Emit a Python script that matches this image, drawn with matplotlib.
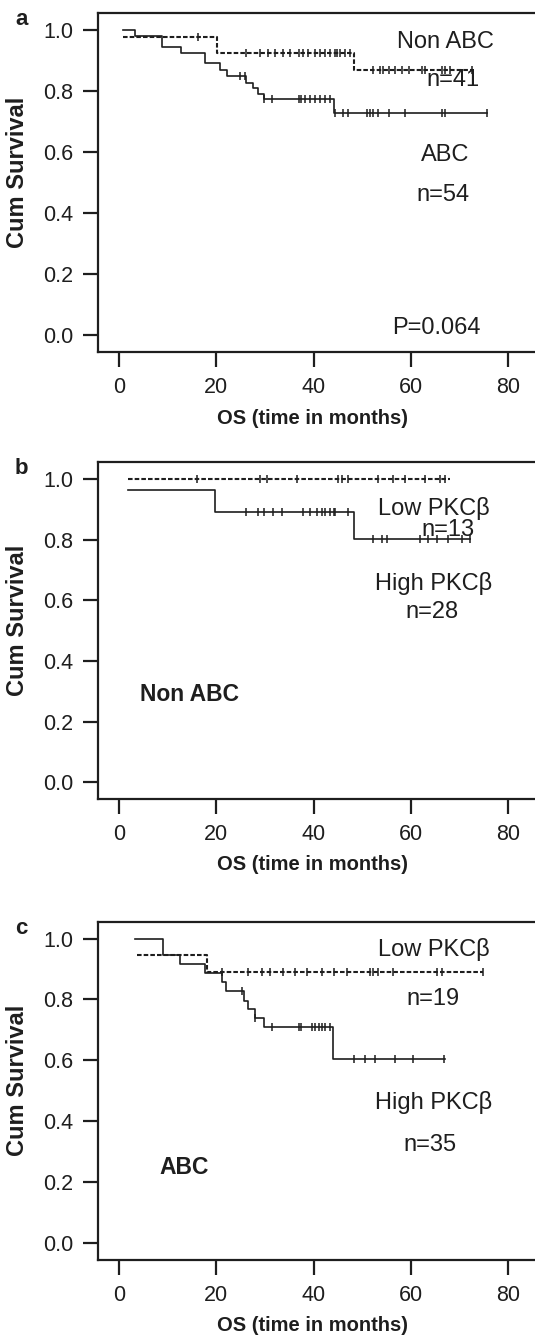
import numpy as np
import matplotlib
matplotlib.use("Agg")
import matplotlib.pyplot as plt

plt.rcParams["font.family"] = ["Liberation Sans", "DejaVu Sans"]

# --- Datos (meses, supervivencia acumulada) ---
# Panel a: Non ABC (discontinua) vs ABC (continua)
a_non_start, a_non_s0, a_non_end = 0.9, 0.976, 72.5
a_non_events = [20.1, 48.3]
a_non_levels = [0.926, 0.869]
a_non_cens = [16.3, 26.2, 29.0, 30.7, 32.1, 33.8, 35.1, 36.9, 37.9, 38.9, 40.3,
              41.3, 42.3, 43.4, 44.4, 44.7, 45.4, 46.5, 47.5, 52.3, 53.6, 54.3,
              55.4, 56.7, 58.1, 59.5, 62.2, 62.9, 66.3, 67.0, 68.0, 72.5]

a_abc_start, a_abc_s0, a_abc_end = 0.9, 1.0, 75.6
a_abc_events = [3.3, 8.9, 12.7, 17.7, 20.8, 22.1, 26.2, 27.6, 28.6, 29.7, 44.1]
a_abc_levels = [0.981, 0.945, 0.926, 0.891, 0.869, 0.849, 0.825, 0.809, 0.789, 0.773, 0.727]
a_abc_cens = [24.9, 25.9, 29.9, 31.4, 36.9, 37.5, 38.2, 39.2, 40.3, 41.3, 42.3, 43.4,
              44.4, 46.1, 47.1, 50.9, 51.6, 52.3, 53.3, 55.4, 58.7, 66.3, 67.0, 75.6]

# Panel b: Non ABC, Low PKCβ (discontinua) vs High PKCβ (continua)
b_low_start, b_low_s0, b_low_end = 1.9, 1.0, 68.0
b_low_events = []
b_low_levels = []
b_low_cens = [16.0, 29.0, 30.4, 36.5, 45.1, 45.8, 47.1, 53.3, 56.4, 58.8, 62.9, 66.0, 67.0]

b_high_start, b_high_s0, b_high_end = 1.9, 0.964, 72.1
b_high_events = [19.7, 48.2]
b_high_levels = [0.892, 0.802]
b_high_cens = [26.2, 28.6, 29.7, 31.7, 33.4, 37.9, 39.3, 40.6, 41.7, 42.3, 43.4, 44.1,
               44.4, 47.1, 52.3, 54.0, 55.0, 61.9, 63.6, 65.3, 67.7, 70.4, 72.1]

# Panel c: ABC, Low PKCβ (discontinua) vs High PKCβ (continua)
c_low_start, c_low_s0, c_low_end = 3.6, 0.947, 74.9
c_low_events = [18.0]
c_low_levels = [0.890]
c_low_cens = [21.1, 26.6, 29.3, 31.0, 33.8, 36.2, 38.6, 41.7, 44.1, 46.8, 51.6,
              52.3, 53.3, 56.4, 65.3, 66.3, 74.9]

c_high_start, c_high_s0, c_high_end = 3.3, 1.0, 67.0
c_high_events = [9.1, 12.5, 17.7, 21.1, 22.0, 25.6, 26.6, 28.0, 29.7, 43.9]
c_high_levels = [0.945, 0.916, 0.888, 0.857, 0.828, 0.795, 0.768, 0.740, 0.711, 0.606]
c_high_cens = [25.2, 28.0, 31.4, 36.9, 37.5, 39.6, 40.3, 41.0, 41.7, 42.3, 43.4,
               48.2, 50.6, 52.6, 56.7, 60.5, 66.7]

x_ticks = [0, 20, 40, 60, 80]
y_ticks = [0.0, 0.2, 0.4, 0.6, 0.8, 1.0]

INK = "#1e1e1e"


def km_curve(ax, start, s0, events, levels, end, cens, dashed):
    xs = [start] + list(events) + [end]
    ys = [s0] + list(levels) + [levels[-1] if levels else s0]
    ls = (0, (2.2, 1.0)) if dashed else "-"
    lw = 1.5 if dashed else 1.2
    ax.step(xs, ys, where="post", color=INK, linestyle=ls, linewidth=lw)
    # nivel de la curva en cada censura
    ev = np.array([start] + list(events))
    lv = np.array([s0] + list(levels))
    idx = np.searchsorted(ev, cens, side="right") - 1
    ax.plot(cens, lv[idx], linestyle="none", marker="|", markersize=6,
            markeredgewidth=1.1, color=INK)


def style_axes(ax, letter):
    ax.set_xlim(-4.32, 85.5)
    ax.set_ylim(-0.0557, 1.0557)
    ax.set_xticks(x_ticks)
    ax.set_yticks(y_ticks)
    ax.set_yticklabels(["%.1f" % v for v in y_ticks])
    ax.tick_params(length=11, width=1.6, pad=7, labelsize=15.5, colors=INK)
    ax.spines["right"].set_visible(False)
    for s in ["left", "bottom", "top"]:
        ax.spines[s].set_linewidth(1.6)
        ax.spines[s].set_color(INK)
    ax.text(-0.184, 0.53, "Cum Survival", transform=ax.transAxes, rotation=90,
            ha="center", va="center", fontsize=17, fontweight="bold", color=INK)
    ax.text(0.49, -0.195, "OS (time in months)", transform=ax.transAxes,
            ha="center", va="center", fontsize=14.5, fontweight="bold", color=INK)
    ax.text(-0.176, 0.98, letter, transform=ax.transAxes, ha="center", va="center",
            fontsize=16, fontweight="bold", color=INK)


fig = plt.figure(figsize=(5.35, 13.39), dpi=100)
left, width = 0.1832, 0.8168
ax_a = fig.add_axes([left, 0.7371, width, 0.2532])
ax_b = fig.add_axes([left, 0.4031, width, 0.2517])
ax_c = fig.add_axes([left, 0.0590, width, 0.2527])

# --- Panel a ---
km_curve(ax_a, a_abc_start, a_abc_s0, a_abc_events, a_abc_levels, a_abc_end, a_abc_cens, False)
km_curve(ax_a, a_non_start, a_non_s0, a_non_events, a_non_levels, a_non_end, a_non_cens, True)
style_axes(ax_a, "a")
tk = dict(ha="center", va="center", fontsize=17, color=INK)
ax_a.text(67.0, 0.96, "Non ABC", **tk)
ax_a.text(68.6, 0.836, "n=41", **tk)
ax_a.text(67.0, 0.59, "ABC", **tk)
ax_a.text(66.6, 0.46, "n=54", **tk)
ax_a.text(65.2, 0.023, "P=0.064", **tk)

# --- Panel b ---
km_curve(ax_b, b_high_start, b_high_s0, b_high_events, b_high_levels, b_high_end, b_high_cens, False)
km_curve(ax_b, b_low_start, b_low_s0, b_low_events, b_low_levels, b_low_end, b_low_cens, True)
style_axes(ax_b, "b")
ax_b.text(64.6, 0.904, "Low PKCβ", **tk)
ax_b.text(67.7, 0.832, "n=13", **tk)
ax_b.text(64.6, 0.657, "High PKCβ", **tk)
ax_b.text(64.3, 0.563, "n=28", **tk)
ax_b.text(4.3, 0.289, "Non ABC", ha="left", va="center", fontsize=16.5,
          fontweight="bold", color=INK)

# --- Panel c ---
km_curve(ax_c, c_high_start, c_high_s0, c_high_events, c_high_levels, c_high_end, c_high_cens, False)
km_curve(ax_c, c_low_start, c_low_s0, c_low_events, c_low_levels, c_low_end, c_low_cens, True)
style_axes(ax_c, "c")
ax_c.text(64.6, 0.965, "Low PKCβ", **tk)
ax_c.text(64.6, 0.800, "n=19", **tk)
ax_c.text(64.7, 0.460, "High PKCβ", **tk)
ax_c.text(63.9, 0.323, "n=35", **tk)
ax_c.text(8.3, 0.247, "ABC", ha="left", va="center", fontsize=16.5,
          fontweight="bold", color=INK)

fig.savefig("out.png", dpi=100)
